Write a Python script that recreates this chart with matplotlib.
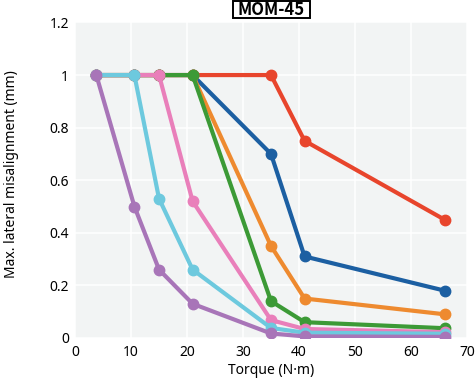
import matplotlib
matplotlib.use('Agg')
from matplotlib import pyplot as plt
from matplotlib.patches import Rectangle

plt.rcParams['font.family'] = ['Noto Sans', 'DejaVu Sans']

torque = [3.8, 10.6, 15, 21, 35, 41, 66]

red = [1, 1, 1, 1, 1, 0.75, 0.45]
blue = [1, 1, 1, 1, 0.70, 0.31, 0.18]
orange = [1, 1, 1, 1, 0.35, 0.15, 0.09]
green = [1, 1, 1, 1, 0.14, 0.06, 0.037]
pink = [1, 1, 1, 0.52, 0.068, 0.034, 0.022]
cyan = [1, 1, 0.53, 0.26, 0.038, 0.02, 0.016]
purple = [1, 0.5, 0.26, 0.13, 0.017, 0.006, 0.004]

series = [red, blue, orange, green, pink, cyan, purple]
colors = ['#e8452c', '#1c5fa2', '#ee8a2f', '#3c9a36', '#e97fba', '#6dc9de', '#a875b8']

fig = plt.figure(figsize=(4.75, 3.81), dpi=100)
ax = fig.add_axes([0.158, 0.113, 0.825, 0.828])
ax.set_facecolor('#f2f4f4')

for vals, c in zip(series, colors):
    ax.plot(torque, vals, color=c, lw=3.0, marker='o', ms=7.5, solid_capstyle='round')

ax.set_xlim(0, 70)
ax.set_ylim(0, 1.2)
ax.set_xticks(range(0, 71, 10))
ax.set_yticks([0, 0.2, 0.4, 0.6, 0.8, 1, 1.2])
ax.set_yticklabels(['0', '0.2', '0.4', '0.6', '0.8', '1', '1.2'])
ax.grid(color='white', lw=1.1)
ax.set_axisbelow(True)
for s in ax.spines.values():
    s.set_visible(False)
ax.tick_params(length=0, labelsize=10)
ax.tick_params(axis='y', pad=4.5)
ax.tick_params(axis='x', pad=5)

ax.set_xlabel('Torque (N·m)', fontsize=10)
ax.xaxis.set_label_coords(0.5, -0.103)
ax.xaxis.label.set_va('center')
ax.set_ylabel('Max. lateral misalignment (mm)', fontsize=10)
ax.yaxis.set_label_coords(-0.162, 0.52)
ax.yaxis.label.set_va('center')

# boxed title
fig.patches.append(Rectangle((233 / 475, 1 - 18 / 381), 77 / 475, 17 / 381,
                             transform=fig.transFigure, facecolor='white',
                             edgecolor='black', lw=1.4))
fig.text(271.5 / 475, 1 - 10 / 381, 'MOM-45', fontsize=12, fontweight='bold',
         family=['Noto Sans CJK JP', 'DejaVu Sans'], ha='center', va='center')

plt.savefig('out.png')
